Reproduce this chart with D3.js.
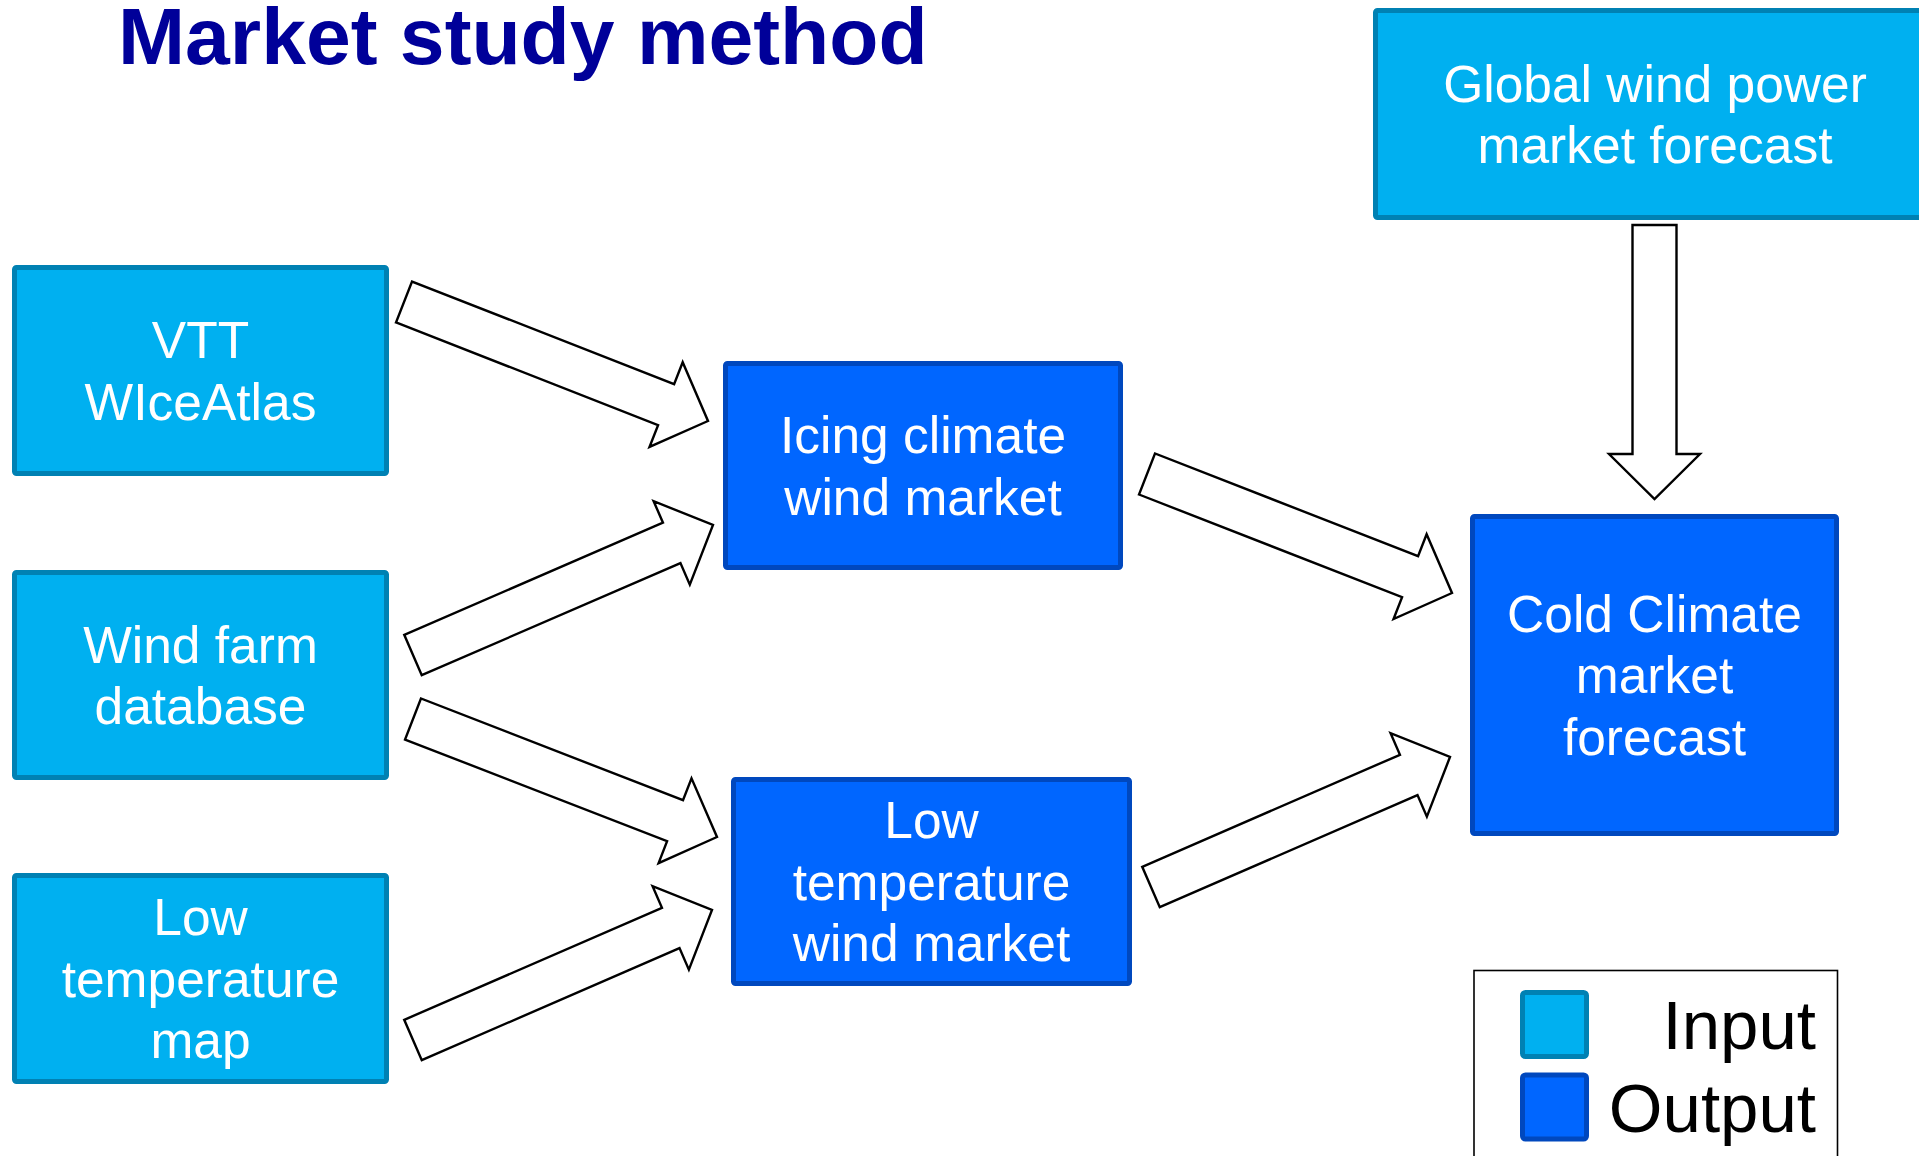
<html>
    <head>
        <script src="https://cdnjs.cloudflare.com/ajax/libs/d3/7.8.5/d3.min.js"></script>
    </head>
    <body style="margin: 0; background: #fff;">
    </body>
    <script>

    // diagram content
    const title = "Market study method"
    const nodeIds = ["vtt", "farm", "lowmap", "global", "icing", "lowtemp", "cold"]
    const nodeLabels = [
      ["VTT", "WIceAtlas"],
      ["Wind farm", "database"],
      ["Low", "temperature", "map"],
      ["Global wind power", "market forecast"],
      ["Icing climate", "wind market"],
      ["Low", "temperature", "wind market"],
      ["Cold Climate", "market", "forecast"]
    ]
    const nodeTypes = ["Input", "Input", "Input", "Input", "Output", "Output", "Output"]
    const links = [
      ["vtt", "icing"],
      ["farm", "icing"],
      ["farm", "lowtemp"],
      ["lowmap", "lowtemp"],
      ["icing", "cold"],
      ["lowtemp", "cold"],
      ["global", "cold"]
    ]
    const legendLabels = ["Input", "Output"]

    // layout (box edges x0,y0,x1,y1 and arrow tail -> tip)
    const boxLayout = {
      vtt:     [12, 265, 389, 476],
      farm:    [12, 570, 389, 780],
      lowmap:  [12, 873, 389, 1084],
      global:  [1373, 8, 1937, 220],
      icing:   [723, 361, 1123, 570],
      lowtemp: [731, 777, 1132, 986],
      cold:    [1470, 514, 1839, 836]
    }
    const arrowLayout = [
      [404, 302, 708, 421],
      [413, 655, 713, 525],
      [413, 719, 717, 837],
      [413, 1040, 712, 910],
      [1147, 474, 1452, 593],
      [1151, 887, 1450, 757],
      [1654.5, 225, 1654.5, 499]
    ]

    var width = 1919, height = 1156
    var fontSize = 51.5, lineH = 61.5, capH = fontSize * 0.716

    var fill = d3.scaleOrdinal().domain(["Input", "Output"]).range(["#00b0f0", "#0066ff"])
    var edge = d3.scaleOrdinal().domain(["Input", "Output"]).range(["#0081b3", "#0048be"])

    const svg = d3.select("body").append("svg")
        .attr("width", width)
        .attr("height", height)
        .style("display", "block")
        .style("font-family", "'Liberation Sans', Arial, sans-serif")

    svg.append("text")
        .attr("x", 118)
        .attr("y", 64)
        .attr("font-size", 80.5)
        .attr("font-weight", "bold")
        .attr("fill", "#000099")
        .text(title)

    const nodes = nodeIds.map((id, i) => {
      const b = boxLayout[id]
      return {id, lines: nodeLabels[i], type: nodeTypes[i], x0: b[0], y0: b[1], x1: b[2], y1: b[3]}
    })

    // block arrows
    function blockArrow(a) {
      const shaft = 44, head = 91, headLen = 45
      const dx = a[2] - a[0], dy = a[3] - a[1]
      const len = Math.sqrt(dx * dx + dy * dy)
      const ux = dx / len, uy = dy / len
      const nx = -uy, ny = ux
      const bx = a[2] - ux * headLen, by = a[3] - uy * headLen
      const pts = [
        [a[0] + nx * shaft / 2, a[1] + ny * shaft / 2],
        [bx + nx * shaft / 2, by + ny * shaft / 2],
        [bx + nx * head / 2, by + ny * head / 2],
        [a[2], a[3]],
        [bx - nx * head / 2, by - ny * head / 2],
        [bx - nx * shaft / 2, by - ny * shaft / 2],
        [a[0] - nx * shaft / 2, a[1] - ny * shaft / 2]
      ]
      return d3.line()(pts) + "Z"
    }

    svg.append("g")
      .selectAll("path")
      .data(links)
      .join("path")
        .attr("d", (d, i) => blockArrow(arrowLayout[i]))
        .attr("fill", "#fff")
        .attr("stroke", "#000")
        .attr("stroke-width", 2.4)
        .attr("stroke-linejoin", "miter")

    var node = svg.append("g")
      .selectAll("g")
      .data(nodes)
      .join("g")

    node.append("rect")
        .attr("x", d => d.x0 + 2.5)
        .attr("y", d => d.y0 + 2.5)
        .attr("width", d => d.x1 - d.x0 - 5)
        .attr("height", d => d.y1 - d.y0 - 5)
        .attr("rx", 2)
        .attr("fill", d => fill(d.type))
        .attr("stroke", d => edge(d.type))
        .attr("stroke-width", 5)

    node.each(function(d) {
      const cx = (d.x0 + d.x1) / 2, cy = (d.y0 + d.y1) / 2
      const first = cy - (d.lines.length - 1) * lineH / 2 + capH / 2
      d3.select(this).selectAll("text")
        .data(d.lines)
        .join("text")
          .attr("x", cx)
          .attr("y", (t, j) => first + j * lineH)
          .attr("text-anchor", "middle")
          .attr("font-size", fontSize)
          .attr("fill", "#fff")
          .text(t => t)
    })

    // legend
    var legend = svg.append("g")
    legend.append("rect")
        .attr("x", 1474)
        .attr("y", 970.5)
        .attr("width", 363.5)
        .attr("height", 200)
        .attr("fill", "#fff")
        .attr("stroke", "#000")
        .attr("stroke-width", 1.6)

    var item = legend.selectAll("g")
      .data(legendLabels)
      .join("g")
        .attr("transform", (d, i) => `translate(0,${i * 82.5})`)

    item.append("rect")
        .attr("x", 1522.5)
        .attr("y", 992.5)
        .attr("width", 64)
        .attr("height", 64)
        .attr("rx", 3)
        .attr("fill", d => fill(d))
        .attr("stroke", d => edge(d))
        .attr("stroke-width", 5)

    item.append("text")
        .attr("x", 1816)
        .attr("y", 1049)
        .attr("text-anchor", "end")
        .attr("font-size", 69)
        .attr("fill", "#000")
        .text(d => d)

    </script>
</html>
